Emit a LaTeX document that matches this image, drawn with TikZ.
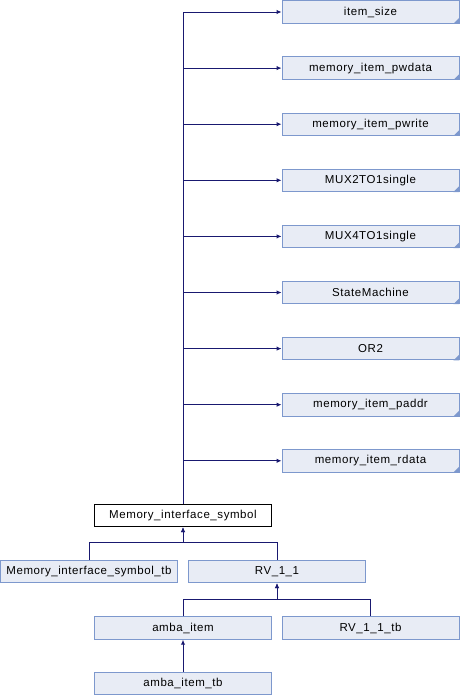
\documentclass[tikz,border=0pt]{standalone}
\usepackage{fontspec}
\setmainfont[LetterSpace=5]{Liberation Sans}
\usetikzlibrary{arrows.meta}
\definecolor{boxfill}{HTML}{E8ECF5}
\definecolor{boxline}{HTML}{7D98CD}
\definecolor{edgecol}{HTML}{191970}
\begin{document}
\begin{tikzpicture}[x=1pt,y=-1pt,
  cls/.style={draw=boxline, fill=boxfill, line width=0.9pt, minimum width=177pt,
    minimum height=22.5pt, inner sep=0pt, font=\fontsize{11.5}{13}\selectfont},
  mainbox/.style={cls, draw=black, fill=white},
  edge/.style={draw=edgecol, line width=1pt, -{Latex[length=5pt,width=4.5pt]}}]
  \useasboundingbox (0,0) rectangle (460,696);

  % base classes of Memory_interface_symbol
  \node[cls] (isz)  at (370.5, 12)    {item\_size};
  \node[cls] (pwd)  at (370.5, 68.1)  {memory\_item\_pwdata};
  \node[cls] (pwr)  at (370.5, 124.2) {memory\_item\_pwrite};
  \node[cls] (mx2)  at (370.5, 180.3) {MUX2TO1single};
  \node[cls] (mx4)  at (370.5, 236.4) {MUX4TO1single};
  \node[cls] (stm)  at (370.5, 292.5) {StateMachine};
  \node[cls] (or2)  at (370.5, 348.6) {OR2};
  \node[cls] (pad)  at (370.5, 404.7) {memory\_item\_paddr};
  \node[cls] (rda)  at (370.5, 460.8) {memory\_item\_rdata};

  % folded corner marks
  \foreach \n in {isz,pwd,pwr,mx2,mx4,stm,or2,pad,rda}
    \fill[boxline] (\n.south east) -- ++(-6,0) -- ++(6,-6) -- cycle;

  % the documented class
  \node[mainbox] (mis) at (183, 515.5) {Memory\_interface\_symbol};

  % derived classes
  \node[cls] (mst)  at (89, 571.5)   {Memory\_interface\_symbol\_tb};
  \node[cls] (rv)   at (277, 571.5)  {RV\_1\_1};
  \node[cls] (amb)  at (183, 628)    {amba\_item};
  \node[cls] (rvtb) at (370.5, 628)  {RV\_1\_1\_tb};
  \node[cls] (abtb) at (183, 683.5)  {amba\_item\_tb};

  % inheritance towards the bases
  \foreach \n in {isz,pwd,pwr,mx2,mx4,stm,or2,pad,rda}
    \draw[edge] (mis.north) |- (\n.west);

  % inheritance from the derived classes
  \draw[edge] (mst.north) -- ++(0,-17) -| (mis.south);
  \draw[edge] (rv.north) -- ++(0,-17) -| (mis.south);
  \draw[edge] (amb.north) -- ++(0,-17) -| (rv.south);
  \draw[edge] (rvtb.north) -- ++(0,-17) -| (rv.south);
  \draw[edge] (abtb.north) -- (amb.south);
\end{tikzpicture}
\end{document}
